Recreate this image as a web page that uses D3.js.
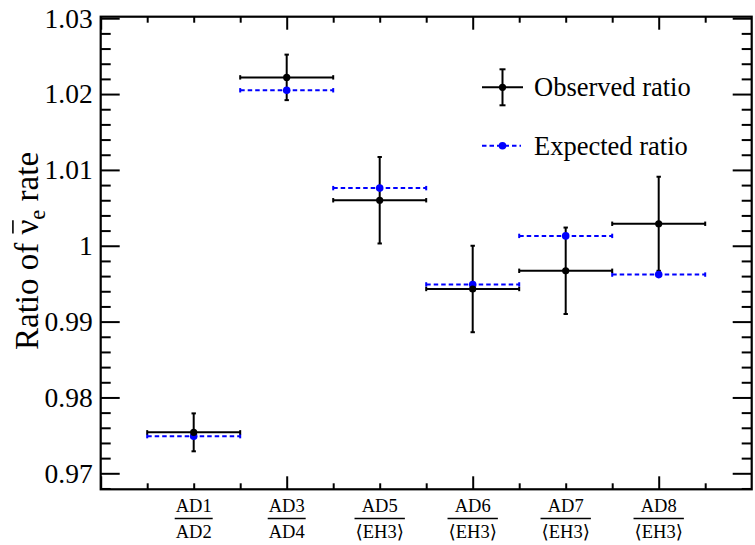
<!DOCTYPE html>
<html>
<head>
<meta charset="utf-8">
<script src="https://cdn.jsdelivr.net/npm/d3@7"></script>
<style>
  html, body { margin: 0; padding: 0; background: #fff; }
  svg { display: block; }
  text { font-family: "Liberation Serif", "DejaVu Serif", serif; fill: #000; }
</style>
</head>
<body>
<svg id="chart" width="755" height="545"></svg>
<script>
// Detector-pair ratios of the antineutrino rate
const numerators   = ["AD1", "AD3", "AD5", "AD6", "AD7", "AD8"];
const denominators = ["AD2", "AD4", "\u27E8EH3\u27E9", "\u27E8EH3\u27E9", "\u27E8EH3\u27E9", "\u27E8EH3\u27E9"];
const observed     = [0.9754, 1.0222, 1.0060, 0.9943, 0.9967, 1.0029];
const observedErr  = [0.0025, 0.0030, 0.0057, 0.0057, 0.0057, 0.0062];
const expected     = [0.9749, 1.0205, 1.0076, 0.9949, 1.0013, 0.9962];
const yMajorTicks  = [0.97, 0.98, 0.99, 1.00, 1.01, 1.02, 1.03];
const legendLabels = ["Observed ratio", "Expected ratio"];

const svg = d3.select("#chart");
const plotL = 100.7, plotR = 751.7, plotT = 16.7, plotB = 489.3;

const x = d3.scaleLinear().domain([0, 7]).range([plotL, plotR]);
const y = d3.scaleLinear().domain([0.96789, 1.0302]).range([plotB, plotT]);

const BLUE = "#0000ff";
const fmt = d => String(+d.toFixed(2));

// minor tick values
const yMinor = d3.range(0, 31).map(i => +(0.968 + i * 0.002).toFixed(3))
  .filter(v => v >= 0.96789 && v <= 1.0302 && !yMajorTicks.some(m => Math.abs(m - v) < 1e-6));
const xMajor = [0, 2, 4, 6];
const xMinor = d3.range(0.5, 7, 0.5).filter(v => !xMajor.includes(v));

function styleAxis(g) {
  g.select(".domain").remove();
  g.selectAll(".tick line").attr("stroke", "#000").attr("stroke-width", 2);
}

// y axis (left) with labels
svg.append("g").attr("transform", `translate(${plotL},0)`)
  .call(d3.axisLeft(y).tickValues(yMajorTicks).tickSize(-19).tickPadding(8).tickFormat(fmt))
  .call(styleAxis)
  .call(g => g.selectAll("text").attr("font-size", 27.5)
    .attr("font-family", "Liberation Serif, DejaVu Serif, serif"));
svg.append("g").attr("transform", `translate(${plotL},0)`)
  .call(d3.axisLeft(y).tickValues(yMinor).tickSize(-10).tickFormat(""))
  .call(styleAxis);
// y axis (right), ticks only
svg.append("g").attr("transform", `translate(${plotR},0)`)
  .call(d3.axisRight(y).tickValues(yMajorTicks).tickSize(-19).tickFormat(""))
  .call(styleAxis);
svg.append("g").attr("transform", `translate(${plotR},0)`)
  .call(d3.axisRight(y).tickValues(yMinor).tickSize(-10).tickFormat(""))
  .call(styleAxis);
// x axes, ticks only
svg.append("g").attr("transform", `translate(0,${plotB})`)
  .call(d3.axisBottom(x).tickValues(xMajor).tickSize(-13).tickFormat(""))
  .call(styleAxis);
svg.append("g").attr("transform", `translate(0,${plotB})`)
  .call(d3.axisBottom(x).tickValues(xMinor).tickSize(-6).tickFormat(""))
  .call(styleAxis);
svg.append("g").attr("transform", `translate(0,${plotT})`)
  .call(d3.axisTop(x).tickValues(xMajor).tickSize(-13).tickFormat(""))
  .call(styleAxis);
svg.append("g").attr("transform", `translate(0,${plotT})`)
  .call(d3.axisTop(x).tickValues(xMinor).tickSize(-6).tickFormat(""))
  .call(styleAxis);

// frame
svg.append("rect")
  .attr("x", plotL).attr("y", plotT)
  .attr("width", plotR - plotL).attr("height", plotB - plotT)
  .attr("fill", "none").attr("stroke", "#000").attr("stroke-width", 2.2);

// category labels as fractions
const xl = svg.append("g");
numerators.forEach((n, i) => {
  const cx = x(i + 1);
  const g = xl.append("g");
  const t1 = g.append("text").attr("x", cx).attr("y", 512)
    .attr("text-anchor", "middle").attr("font-size", 18.5).text(n);
  const t2 = g.append("text").attr("x", cx).attr("y", 538)
    .attr("text-anchor", "middle").attr("font-size", 18.5).text(denominators[i]);
  const w = Math.max(t1.node().getComputedTextLength(), t2.node().getComputedTextLength()) + 2;
  g.append("line").attr("x1", cx - w / 2).attr("x2", cx + w / 2)
    .attr("y1", 518.5).attr("y2", 518.5).attr("stroke", "#000").attr("stroke-width", 1.6);
});

// y-axis title: Ratio of nu-bar_e rate
(function () {
  const fs = 33;
  const g = svg.append("g").attr("transform", "translate(38,251) rotate(-90)");
  const parts = g.append("text").attr("font-size", fs).attr("text-anchor", "middle");
  parts.append("tspan").text("Ratio of ");
  parts.append("tspan").text("\u03BD");
  parts.append("tspan").attr("font-size", fs * 0.68).attr("dy", fs * 0.2).text("e");
  parts.append("tspan").attr("dy", -fs * 0.2).text(" rate");
  // bar over nu
  const node = parts.node();
  const idx = "Ratio of ".length;
  const s = node.getStartPositionOfChar(idx);
  const e = node.getEndPositionOfChar(idx);
  g.append("line").attr("x1", s.x + 1).attr("x2", e.x - 0.5)
    .attr("y1", -fs * 0.76).attr("y2", -fs * 0.76)
    .attr("stroke", "#000").attr("stroke-width", 1.6);
})();

const cap = 2.2;

// expected ratio: dashed blue bin lines with markers
const exp = svg.append("g");
expected.forEach((v, i) => {
  const x0 = x(i + 0.5), x1 = x(i + 1.5), yy = y(v);
  exp.append("line").attr("x1", x0).attr("x2", x1).attr("y1", yy).attr("y2", yy)
    .attr("stroke", BLUE).attr("stroke-width", 2).attr("stroke-dasharray", "4.5,3");
  [x0, x1].forEach(xx => exp.append("line").attr("x1", xx).attr("x2", xx)
    .attr("y1", yy - cap).attr("y2", yy + cap).attr("stroke", BLUE).attr("stroke-width", 2));
});

// observed ratio: black error crosses
const obs = svg.append("g");
observed.forEach((v, i) => {
  const cx = x(i + 1), x0 = x(i + 0.5), x1 = x(i + 1.5), yy = y(v);
  const yt = y(v + observedErr[i]), yb = y(v - observedErr[i]);
  obs.append("line").attr("x1", x0).attr("x2", x1).attr("y1", yy).attr("y2", yy)
    .attr("stroke", "#000").attr("stroke-width", 2);
  obs.append("line").attr("x1", cx).attr("x2", cx).attr("y1", yt).attr("y2", yb)
    .attr("stroke", "#000").attr("stroke-width", 2);
  [x0, x1].forEach(xx => obs.append("line").attr("x1", xx).attr("x2", xx)
    .attr("y1", yy - cap).attr("y2", yy + cap).attr("stroke", "#000").attr("stroke-width", 2));
  [yt, yb].forEach(yv => obs.append("line").attr("x1", cx - cap).attr("x2", cx + cap)
    .attr("y1", yv).attr("y2", yv).attr("stroke", "#000").attr("stroke-width", 2));
});
// markers on top
expected.forEach((v, i) => {
  svg.append("circle").attr("cx", x(i + 1)).attr("cy", y(v)).attr("r", 3.8).attr("fill", BLUE);
});
observed.forEach((v, i) => {
  svg.append("circle").attr("cx", x(i + 1)).attr("cy", y(v)).attr("r", 3.6).attr("fill", "#000");
});

// legend
const lg = svg.append("g");
const lx0 = 482, lx1 = 523, lcx = 502.5;
const ly1 = 87.3, ly2 = 145.7;
lg.append("line").attr("x1", lx0).attr("x2", lx1).attr("y1", ly1).attr("y2", ly1)
  .attr("stroke", "#000").attr("stroke-width", 2);
lg.append("line").attr("x1", lcx).attr("x2", lcx).attr("y1", ly1 - 18).attr("y2", ly1 + 18)
  .attr("stroke", "#000").attr("stroke-width", 2);
[ly1 - 18, ly1 + 18].forEach(yv => lg.append("line").attr("x1", lcx - 3).attr("x2", lcx + 3)
  .attr("y1", yv).attr("y2", yv).attr("stroke", "#000").attr("stroke-width", 2));
lg.append("circle").attr("cx", lcx).attr("cy", ly1).attr("r", 3.6).attr("fill", "#000");
lg.append("line").attr("x1", lx0).attr("x2", 521).attr("y1", ly2).attr("y2", ly2)
  .attr("stroke", BLUE).attr("stroke-width", 2).attr("stroke-dasharray", "4.5,3");
lg.append("circle").attr("cx", lcx).attr("cy", ly2).attr("r", 3.8).attr("fill", BLUE);
lg.append("text").attr("x", 534).attr("y", ly1 + 9).attr("font-size", 26.5).text(legendLabels[0]);
lg.append("text").attr("x", 534).attr("y", ly2 + 9).attr("font-size", 26.5).text(legendLabels[1]);
</script>
</body>
</html>
